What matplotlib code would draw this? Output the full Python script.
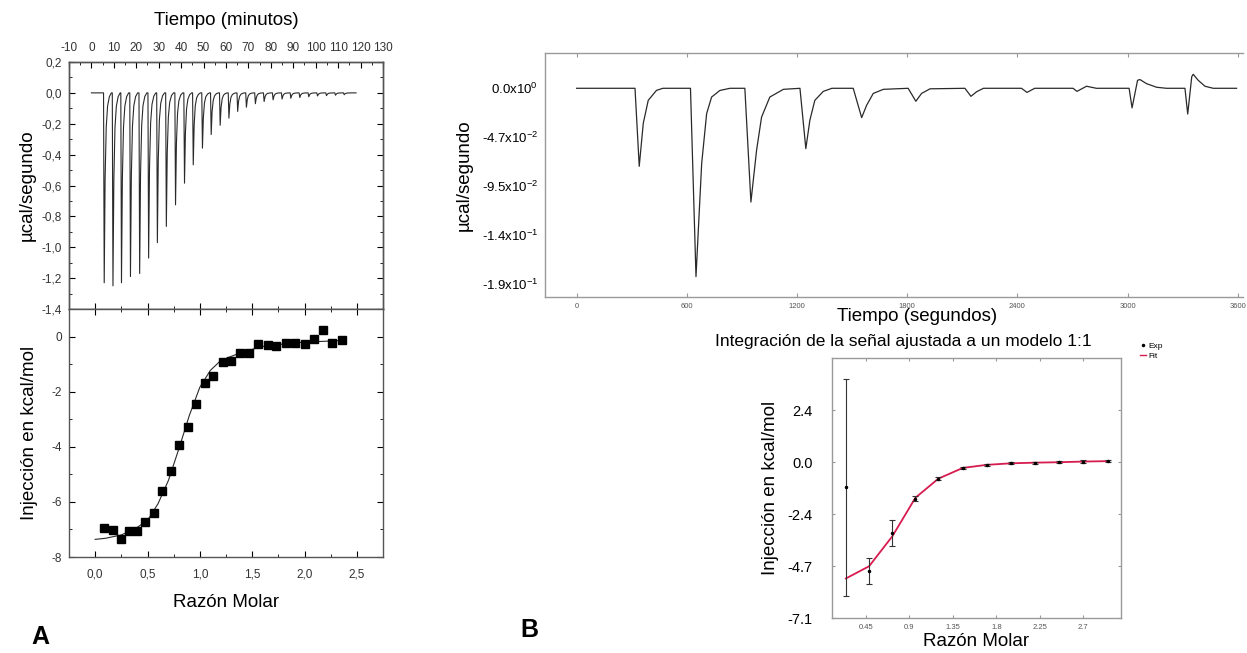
import matplotlib
matplotlib.use("Agg")
import matplotlib.pyplot as plt
from matplotlib.lines import Line2D
from matplotlib.ticker import MultipleLocator

plt.rcParams['font.family'] = ['Liberation Sans', 'DejaVu Sans']
plt.rcParams['mathtext.fontset'] = 'custom'
plt.rcParams['mathtext.rm'] = 'Liberation Sans'
plt.rcParams['mathtext.it'] = 'Liberation Sans:italic'
plt.rcParams['axes.unicode_minus'] = False

W, H = 1247, 653

# ---- panel A: thermogram (minutes) ----
a_inj_time = [5.7, 9.6, 13.4, 17.4, 21.5, 25.5, 29.4, 33.4, 37.5, 41.5, 45.4, 49.5,
              53.4, 57.4, 61.3, 65.2, 69.1, 73.1, 77.0, 81.0, 85.0, 88.9, 92.9, 96.9,
              100.8, 104.8, 108.8, 112.7]
a_peak_depth = [-1.23, -1.25, -1.23, -1.19, -1.17, -1.07, -0.97, -0.865, -0.725, -0.585,
                -0.466, -0.358, -0.27, -0.21, -0.164, -0.12, -0.093, -0.07, -0.056,
                -0.045, -0.04, -0.035, -0.03, -0.025, -0.02, -0.018, -0.015, -0.012]
# spike profile: minutes from the minimum, fraction of depth
a_spike_dt = [-0.3, 0.0, 0.4, 0.9, 1.5, 2.3, 3.2]
a_spike_frac = [0.0, 1.0, 0.45, 0.18, 0.07, 0.02, 0.0]
a_run_start, a_run_end = 0.0, 118.0

# ---- panel A: integrated heats ----
a_ratio = [0.089, 0.17, 0.243, 0.323, 0.40, 0.48, 0.56, 0.64, 0.725, 0.80, 0.885, 0.965,
           1.054, 1.13, 1.22, 1.30, 1.383, 1.47, 1.56, 1.65, 1.73, 1.82, 1.91, 2.0,
           2.09, 2.18, 2.265, 2.36]
a_heat = [-6.96, -7.01, -7.34, -7.07, -7.07, -6.73, -6.39, -5.61, -4.89, -3.95, -3.27, -2.44,
          -1.67, -1.43, -0.91, -0.88, -0.58, -0.58, -0.28, -0.30, -0.36, -0.22, -0.23, -0.27,
          -0.08, 0.23, -0.23, -0.14]
a_fit_x = [0.0, 0.1, 0.25, 0.4, 0.5, 0.6, 0.7, 0.8, 0.9, 1.0, 1.1, 1.2, 1.4, 1.6, 1.8, 2.0, 2.2, 2.37]
a_fit_y = [-7.36, -7.32, -7.2, -6.93, -6.67, -6.07, -5.22, -4.07, -2.86, -1.84, -1.23, -0.87,
           -0.57, -0.36, -0.27, -0.2, -0.17, -0.14]

# ---- panel B: thermogram (seconds) ----
b_time = [0, 318, 341, 363, 390, 435, 470,
          620, 650, 681, 708, 735, 780, 835,
          916, 949, 980, 1007, 1052, 1126,
          1216, 1248, 1270, 1297, 1343, 1390,
          1506, 1552, 1579, 1615, 1670,
          1805, 1847, 1878, 1924,
          2114, 2147, 2178, 2215,
          2422, 2452, 2494,
          2703, 2724, 2776, 2830,
          3008, 3024, 3054, 3067, 3103, 3158, 3212,
          3312, 3327, 3349, 3357, 3384, 3421, 3466, 3593]
b_power = [0, 0, -0.0758, -0.034, -0.0117, -0.002, 0,
           0, -0.183, -0.073, -0.0246, -0.0085, -0.0021, 0,
           0, -0.1105, -0.06, -0.028, -0.0085, -0.001,
           0, -0.0586, -0.031, -0.0117, -0.003, 0,
           0, -0.0285, -0.0165, -0.005, -0.001,
           0, -0.0126, -0.005, -0.0005,
           0, -0.0078, -0.0033, 0,
           0, -0.004, 0,
           0, -0.003, 0.002, 0,
           0, -0.019, 0.0078, 0.0085, 0.0045, 0.001, 0,
           0, -0.025, 0.0113, 0.0136, 0.0078, 0.002, 0, 0]
b_yticks = [0.0, -0.0475, -0.095, -0.1425, -0.19]
b_ylabels = [r'0.0x10$^{0}$', r'-4.7x10$^{-2}$', r'-9.5x10$^{-2}$', r'-1.4x10$^{-1}$', r'-1.9x10$^{-1}$']

# ---- panel B: fitted integration ----
b_ratio = [0.243, 0.484, 0.725, 0.963, 1.20, 1.453, 1.70, 1.952, 2.20, 2.45, 2.70, 2.96]
b_heat = [-1.15, -4.95, -3.24, -1.66, -0.75, -0.26, -0.12, -0.04, -0.02, 0.0, 0.03, 0.05]
b_err = [4.96, 0.59, 0.60, 0.10, 0.06, 0.06, 0.06, 0.05, 0.05, 0.05, 0.05, 0.05]
b_fit = [-5.3, -4.74, -3.37, -1.62, -0.75, -0.26, -0.12, -0.05, -0.02, 0.0, 0.03, 0.05]
b_xticks = [0.45, 0.9, 1.35, 1.8, 2.25, 2.7]
b_xlabels = ['0.45', '0.9', '1.35', '1.8', '2.25', '2.7']
b_yticks2 = [-7.1, -4.73, -2.36, 0.0, 2.37]
b_ylabels2 = ['-7.1', '-4.7', '-2.4', '0.0', '2.4']


def px_axes(fig, x0, y0, x1, y1):
    return fig.add_axes([x0 / W, 1 - y1 / H, (x1 - x0) / W, (y1 - y0) / H])


fig = plt.figure(figsize=(W / 100, H / 100), dpi=100)

tick_grey = '#333333'
line_col = '#2a2a2a'

# ================= A top =================
ax_a1 = px_axes(fig, 69, 62, 383, 309)
ax_a1.set_xlim(-0.25, 2.75)
ax_a1.set_ylim(-1.4, 0.2)
ax_a1.xaxis.set_major_locator(MultipleLocator(0.5))
ax_a1.xaxis.set_minor_locator(MultipleLocator(0.25))
ax_a1.set_yticks([0.2, 0.0, -0.2, -0.4, -0.6, -0.8, -1.0, -1.2, -1.4],
                 labels=['0,2', '0,0', '-0,2', '-0,4', '-0,6', '-0,8', '-1,0', '-1,2', '-1,4'])
ax_a1.yaxis.set_minor_locator(MultipleLocator(0.1))
ax_a1.tick_params(axis='x', which='both', direction='in', bottom=True, top=False,
                  labelbottom=False, length=4)
ax_a1.tick_params(axis='x', which='minor', length=2.5)
ax_a1.tick_params(axis='y', which='both', direction='in', left=True, right=True,
                  labelsize=8.5, labelcolor=tick_grey, pad=5, length=4)
ax_a1.tick_params(axis='y', which='minor', length=2.5)
ax_a1.set_ylabel('µcal/segundo', fontsize=13.5, labelpad=4)

ax_min = ax_a1.twiny()
ax_min.set_xlim(-10, 130)
ax_min.xaxis.set_major_locator(MultipleLocator(10))
ax_min.xaxis.set_minor_locator(MultipleLocator(5))
ax_min.tick_params(axis='x', which='both', direction='in', length=4, labelsize=8.5,
                   labelcolor=tick_grey, pad=6)
ax_min.tick_params(axis='x', which='minor', length=2.5)
ax_min.set_xlabel('Tiempo (minutos)', fontsize=13.5, labelpad=12)

trace_t = [a_run_start]
trace_p = [0.0]
for t0, d in zip(a_inj_time, a_peak_depth):
    for dt, f in zip(a_spike_dt, a_spike_frac):
        trace_t.append(t0 + dt)
        trace_p.append(d * f)
trace_t.append(a_run_end)
trace_p.append(0.0)
ax_min.plot(trace_t, trace_p, color=line_col, lw=0.8)

for ax in (ax_a1, ax_min):
    for s in ax.spines.values():
        s.set_color('#555555')
        s.set_linewidth(1.0)

# ================= A bottom =================
ax_a2 = px_axes(fig, 69, 309, 383, 557)
ax_a2.set_xlim(-0.25, 2.75)
ax_a2.set_ylim(-8, 1.0)
ax_a2.set_xticks([0.0, 0.5, 1.0, 1.5, 2.0, 2.5], labels=['0,0', '0,5', '1,0', '1,5', '2,0', '2,5'])
ax_a2.xaxis.set_minor_locator(MultipleLocator(0.25))
ax_a2.set_yticks([0, -2, -4, -6, -8], labels=['0', '-2', '-4', '-6', '-8'])
ax_a2.yaxis.set_minor_locator(MultipleLocator(1))
ax_a2.tick_params(which='both', direction='in', top=True, right=True, labelsize=8.5,
                  labelcolor=tick_grey, length=4)
ax_a2.tick_params(axis='x', pad=8)
ax_a2.tick_params(axis='y', pad=5)
ax_a2.tick_params(which='minor', length=2.5)
ax_a2.plot(a_fit_x, a_fit_y, color=line_col, lw=0.8)
ax_a2.plot(a_ratio, a_heat, ls='none', marker='s', ms=6, color='black')
ax_a2.set_xlabel('Razón Molar', fontsize=13.5, labelpad=10)
ax_a2.set_ylabel('Injección en kcal/mol', fontsize=13.5, labelpad=10)
for s in ax_a2.spines.values():
    s.set_color('#555555')
    s.set_linewidth(1.0)

# ================= B top =================
ax_b1 = px_axes(fig, 545, 53, 1243, 297)
ax_b1.set_xlim(-172, 3628)
ax_b1.set_ylim(-0.2028, 0.0343)
ax_b1.plot(b_time, b_power, color=line_col, lw=0.9)
ax_b1.set_xticks([0, 600, 1200, 1800, 2400, 3000, 3600],
                 labels=['0', '600', '1200', '1800', '2400', '3000', '3600'])
ax_b1.set_yticks(b_yticks, labels=b_ylabels)
ax_b1.tick_params(axis='x', direction='in', top=True, length=3, labelsize=5.5,
                  labelcolor='#555555', pad=4, color='#999999')
ax_b1.tick_params(axis='y', direction='in', length=0, labelsize=9.5, pad=5)
ax_b1.spines['right'].set_visible(False)
for k in ('left', 'top', 'bottom'):
    ax_b1.spines[k].set_color('#9a9a9a')
    ax_b1.spines[k].set_linewidth(1.0)
ax_b1.set_ylabel('µcal/segundo', fontsize=13.5, labelpad=6)
ax_b1.set_xlabel('Tiempo (segundos)', fontsize=13.5, labelpad=0)
ax_b1.xaxis.set_label_coords((917 - 545) / 698, -0.045, transform=ax_b1.transAxes)
ax_b1.xaxis.label.set_va('top')

# ================= B bottom =================
ax_b2 = px_axes(fig, 832, 358, 1121, 618)
ax_b2.set_xlim(0.1, 3.09)
ax_b2.set_ylim(-7.1, 4.75)
ax_b2.errorbar(b_ratio, b_heat, yerr=b_err, fmt='.', ms=3, color='black',
               ecolor='#333333', elinewidth=0.8, capsize=2, capthick=0.8, zorder=3)
ax_b2.plot(b_ratio, b_fit, color='#d81b4f', lw=1.3, zorder=2)
ax_b2.set_xticks(b_xticks, labels=b_xlabels)
ax_b2.set_yticks(b_yticks2, labels=b_ylabels2)
ax_b2.tick_params(axis='x', direction='in', top=True, length=2.5, labelsize=5.5,
                  labelcolor='#555555', pad=4, color='#999999')
ax_b2.tick_params(axis='y', direction='in', right=True, length=2.5, labelsize=10.5,
                  pad=14, color='#999999')
for s in ax_b2.spines.values():
    s.set_color('#9a9a9a')
    s.set_linewidth(1.0)
ax_b2.set_xlabel('Razón Molar', fontsize=13.5, labelpad=2)
ax_b2.set_ylabel('Injección en kcal/mol', fontsize=13.5, labelpad=6)
fig.text(903 / W, 1 - 341 / H, 'Integración de la señal ajustada a un modelo 1:1',
         fontsize=12.5, ha='center', va='center')

handles = [Line2D([], [], ls='none', marker='.', ms=3, color='black'),
           Line2D([], [], color='#d81b4f', lw=1)]
fig.legend(handles, ['Exp', 'Fit'], loc='upper left', bbox_to_anchor=(1136 / W, 1 - 338 / H),
           frameon=False, fontsize=6, handlelength=0.7, handletextpad=0.3,
           labelspacing=0.3, borderpad=0)

# panel letters
fig.text(40 / W, 1 - 637 / H, 'A', fontsize=18, fontweight='bold', ha='center', va='center')
fig.text(529 / W, 1 - 630 / H, 'B', fontsize=18, fontweight='bold', ha='center', va='center')

fig.savefig('out.png', dpi=100)
